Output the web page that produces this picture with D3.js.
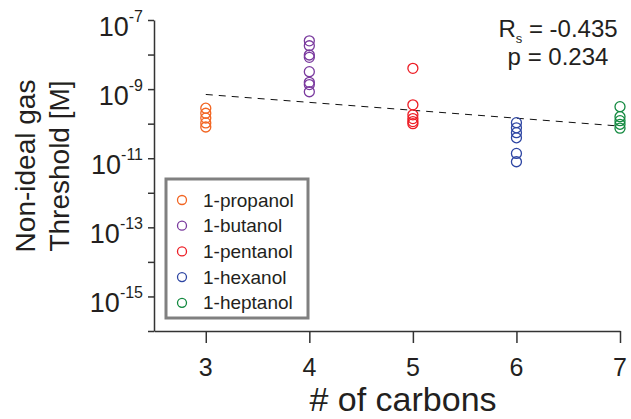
<!DOCTYPE html>
<html>
<head>
<meta charset="utf-8">
<script src="https://cdn.jsdelivr.net/npm/d3@7"></script>
<style>
  body { margin: 0; background: #fff; }
  text { font-family: "Liberation Sans", Arial, sans-serif; fill: #231f20; }
</style>
</head>
<body>
<div id="chart"></div>
<script>
// Data
var carbons = [3, 4, 5, 6, 7];
var alcohols = ["1-propanol", "1-butanol", "1-pentanol", "1-hexanol", "1-heptanol"];
var colors = ["#f26522", "#7a3a9e", "#ed1c24", "#2e46a3", "#12893f"];

var propanol = [2.8e-10, 2.0e-10, 1.45e-10, 1.05e-10, 8e-11];
var butanol = [2.5e-8, 1.8e-8, 9.7e-9, 8.3e-9, 3.2e-9, 1.57e-9, 1.35e-9, 8.4e-10];
var pentanol = [4.0e-9, 3.5e-10, 1.8e-10, 1.4e-10, 1.15e-10, 1.0e-10];
var hexanol = [1.07e-10, 7.6e-11, 5.5e-11, 3.9e-11, 1.38e-11, 7.9e-12];
var heptanol = [3.1e-10, 1.59e-10, 1.22e-10, 9.6e-11, 7.4e-11];

// fit line end points (dashed)
var fitX = [3, 7];
var fitY = [7.0e-10, 8.5e-11];

var xTicks = [3, 4, 5, 6, 7];
var yExponents = [-16, -15, -14, -13, -12, -11, -10, -9, -8, -7];
var yLabelExponents = [-15, -13, -11, -9, -7];

var statLines = ["R", "p = 0.234"];

var width = 631;
var height = 419;

var svg = d3.select("#chart")
  .append("svg")
  .attr("width", width)
  .attr("height", height);

// scales
var xScale = d3.scaleLinear().domain([2.5, 7]).range([154, 620]);
var yScale = d3.scaleLog().domain([1e-16, 1e-7]).range([331, 20]);

// axes
var xAxis = d3.axisBottom(xScale)
  .tickValues(xTicks)
  .tickSize(12)
  .tickSizeOuter(0)
  .tickFormat("");

var yAxis = d3.axisLeft(yScale)
  .tickValues(yExponents.map(function(e) { return Math.pow(10, e); }))
  .tickSize(6)
  .tickSizeOuter(0)
  .tickFormat("");

var gx = svg.append("g")
  .attr("transform", "translate(0," + 331 + ")")
  .call(xAxis);

var gy = svg.append("g")
  .attr("transform", "translate(" + 154 + ",0)")
  .call(yAxis);

svg.selectAll(".domain, .tick line")
  .attr("stroke", "#333")
  .attr("stroke-width", 1.5);

// x tick labels
svg.selectAll(".xlab")
  .data(xTicks)
  .enter()
  .append("text")
  .attr("class", "xlab")
  .attr("x", function(d) { return xScale(d); })
  .attr("y", 376)
  .attr("text-anchor", "middle")
  .attr("font-size", 25)
  .text(function(d) { return d; });

// y tick labels, 10 with superscript exponent
var ylab = svg.selectAll(".ylab")
  .data(yLabelExponents)
  .enter()
  .append("text")
  .attr("class", "ylab")
  .attr("x", 143)
  .attr("y", function(d) { return yScale(Math.pow(10, d)) + 16; })
  .attr("text-anchor", "end")
  .attr("font-size", 27);
ylab.append("tspan").text("10");
ylab.append("tspan")
  .attr("font-size", 16)
  .attr("dy", -14)
  .text(function(d) { return d; });

// axis titles
svg.append("text")
  .attr("x", 403)
  .attr("y", 411)
  .attr("text-anchor", "middle")
  .attr("font-size", 34)
  .text("# of carbons");

var yTitle = svg.append("text")
  .attr("transform", "translate(35,166)rotate(-90)")
  .attr("text-anchor", "middle")
  .attr("font-size", 28);
yTitle.append("tspan").attr("x", 0).attr("y", 0).text("Non-ideal gas");
yTitle.append("tspan").attr("x", 0).attr("y", 34).text("Threshold [M]");

// dashed fit line
var line = d3.line()
  .x(function(d) { return xScale(d[0]); })
  .y(function(d) { return yScale(d[1]); });

svg.append("path")
  .datum(d3.zip(fitX, fitY))
  .attr("d", line)
  .attr("fill", "none")
  .attr("stroke", "#111")
  .attr("stroke-width", 1)
  .attr("stroke-dasharray", "7,6");

// points
var groups = [propanol, butanol, pentanol, hexanol, heptanol];
groups.forEach(function(vals, i) {
  svg.append("g")
    .selectAll("circle")
    .data(vals)
    .enter()
    .append("circle")
    .attr("cx", xScale(carbons[i]))
    .attr("cy", function(d) { return yScale(d); })
    .attr("r", 5)
    .attr("fill", "none")
    .attr("stroke", colors[i])
    .attr("stroke-width", 1.3);
});

// legend
var legend = svg.append("g");
legend.append("rect")
  .attr("x", 166)
  .attr("y", 179)
  .attr("width", 142)
  .attr("height", 139)
  .attr("fill", "#fff")
  .attr("stroke", "#808080")
  .attr("stroke-width", 3);

var items = legend.selectAll(".item")
  .data(alcohols)
  .enter()
  .append("g")
  .attr("class", "item")
  .attr("transform", function(d, i) { return "translate(0," + (200 + i * 25.7) + ")"; });

items.append("circle")
  .attr("cx", 182)
  .attr("cy", 0)
  .attr("r", 4.5)
  .attr("fill", "none")
  .attr("stroke", function(d, i) { return colors[i]; })
  .attr("stroke-width", 1.3);

items.append("text")
  .attr("x", 203)
  .attr("y", 6.5)
  .attr("font-size", 19)
  .text(function(d) { return d; });

// correlation stats
var rs = svg.append("text")
  .attr("x", 558)
  .attr("y", 37)
  .attr("text-anchor", "middle")
  .attr("font-size", 24);
rs.append("tspan").text(statLines[0]);
rs.append("tspan").attr("font-size", 13).attr("dy", 6).text("s");
rs.append("tspan").attr("dy", -6).text(" = -0.435");

svg.append("text")
  .attr("x", 558)
  .attr("y", 65)
  .attr("text-anchor", "middle")
  .attr("font-size", 24)
  .text(statLines[1]);
</script>
</body>
</html>
